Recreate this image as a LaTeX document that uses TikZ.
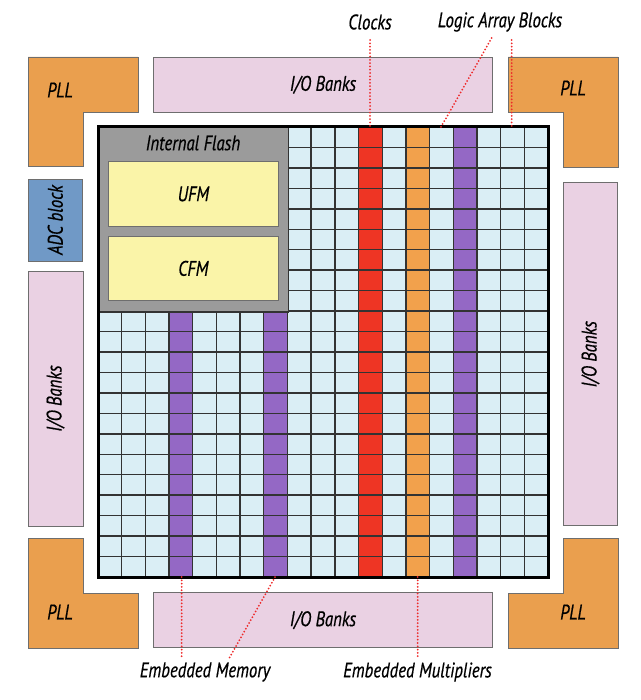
\documentclass[tikz,border=0pt]{standalone}
\usepackage{fontspec}
\usepackage{xcolor}
\usepackage{tikz}
\usetikzlibrary{positioning,calc}
\newfontfamily\lblfont[FakeStretch=0.8,FakeBold=0.6]{PT Sans}
\definecolor{pllorange}{HTML}{EA9F4E}
\definecolor{iopink}{HTML}{EAD1E3}
\definecolor{adcblue}{HTML}{7099C6}
\definecolor{flashgray}{HTML}{9B9B9B}
\definecolor{ufmyellow}{HTML}{FAF4A8}
\definecolor{cellblue}{HTML}{DAEEF5}
\definecolor{clkred}{HTML}{EE3524}
\definecolor{multorange}{HTML}{F2A14C}
\definecolor{mempurple}{HTML}{9468C5}
\definecolor{edgegray}{HTML}{6E6E6E}
\definecolor{gridgray}{HTML}{333333}
\definecolor{calloutred}{HTML}{EE2A2A}

\begin{document}
\begin{tikzpicture}[x=1pt,y=-1pt,
    lbl/.style={font=\lblfont\itshape\fontsize{21}{22}\selectfont, inner sep=0pt},
    pll/.style={fill=pllorange, draw=edgegray, line width=0.9pt},
    iobank/.style={lbl, fill=iopink, draw=edgegray, line width=0.9pt},
    cell/.style={draw=gridgray, line width=1.4pt},
    callout/.style={draw=calloutred, line width=2pt, line cap=round, dash pattern=on 0pt off 3.3pt}]
    \useasboundingbox (0,0) rectangle (640,700);

    % PLL corners
    \draw[pll] (28,57) -- (138,57) -- (138,112) -- (83,112) -- (83,166) -- (28,166) -- cycle;
    \draw[pll] (508,57) -- (618,57) -- (618,167) -- (563,167) -- (563,112) -- (508,112) -- cycle;
    \draw[pll] (28,538) -- (83,538) -- (83,593) -- (138,593) -- (138,648) -- (28,648) -- cycle;
    \draw[pll] (563,538) -- (618,538) -- (618,648) -- (508,648) -- (508,593) -- (563,593) -- cycle;
    \foreach \x/\y/\n in {60/90/pllTL, 573/88/pllTR, 60/612/pllBL, 573/612/pllBR}
        \node[lbl] (\n) at (\x,\y) {PLL};

    % I/O banks and ADC
    \node[iobank, minimum width=338.6pt, minimum height=55pt] (ioTop) at (323,84.8) {I/O Banks};
    \node[iobank, minimum width=338.6pt, minimum height=55pt] (ioBot) at (323,620.2) {I/O Banks};
    \node[iobank, rotate=90, minimum width=255pt, minimum height=55pt] (ioLeft) at (55.5,398.5) {I/O Banks};
    \node[iobank, rotate=90, minimum width=343pt, minimum height=54.4pt] (ioRight) at (590.5,354.2) {I/O Banks};
    \node[iobank, fill=adcblue, rotate=90, minimum width=82pt, minimum height=54.7pt] (adc) at (55.3,220) {ADC block};

    % core array
    \fill[cellblue] (98,127) rectangle (548,577);
    \foreach \c/\r/\col in {3/9/mempurple, 7/9/mempurple, 11/0/clkred, 13/0/multorange, 15/0/mempurple}
        \fill[\col] ({98+\c*23.684},{127+\r*20.4545}) rectangle ({98+(\c+1)*23.684},577);
    \foreach \i in {1,...,18}
        \draw[cell] ({98+\i*23.684},127) -- ({98+\i*23.684},577);
    \foreach \j in {1,...,21}
        \draw[cell] (98,{127+\j*20.4545}) -- (548,{127+\j*20.4545});

    % internal flash
    \node[fill=flashgray, draw=gridgray, line width=1.4pt, anchor=north west,
          minimum width=189.7pt, minimum height=184.1pt] (flash) at (98,127) {};
    \node[lbl] (flashLbl) at (193,143) {Internal Flash};
    \node[lbl, fill=ufmyellow, draw=edgegray, line width=0.9pt, minimum width=170pt, minimum height=64.3pt] (ufm) at (193.3,193.9) {UFM};
    \node[lbl, fill=ufmyellow, draw=edgegray, line width=0.9pt, minimum width=170pt, minimum height=64.7pt] (cfm) at (193.3,268.4) {CFM};
    \draw[line width=3pt] (98,127) rectangle (548,577);

    % callouts
    \node[lbl] (clocks) at (370,22) {Clocks};
    \node[lbl] (lab) at (500,22) {Logic Array Blocks};
    \node[lbl] (mem) at (205,672) {Embedded Memory};
    \node[lbl] (mult) at (417.5,672) {Embedded Multipliers};
    \coordinate (clkTop) at (370,40);
    \coordinate (clkEnd) at (370,127);
    \coordinate (labTopA) at (491.7,38);
    \coordinate (labEndA) at (441,127);
    \coordinate (labTopB) at (511.7,40);
    \coordinate (labEndB) at (511.7,127);
    \coordinate (memStartA) at (181.7,577);
    \coordinate (memBotA) at (181.7,658);
    \coordinate (memStartB) at (275,577);
    \coordinate (memBotB) at (229.3,658);
    \coordinate (multStart) at (417.7,577);
    \coordinate (multBot) at (417.7,658);
    \draw[callout] (clkTop) -- (clkEnd);
    \draw[callout] (labTopA) -- (labEndA);
    \draw[callout] (labTopB) -- (labEndB);
    \draw[callout] (memStartA) -- (memBotA);
    \draw[callout] (memStartB) -- (memBotB);
    \draw[callout] (multStart) -- (multBot);
\end{tikzpicture}
\end{document}
